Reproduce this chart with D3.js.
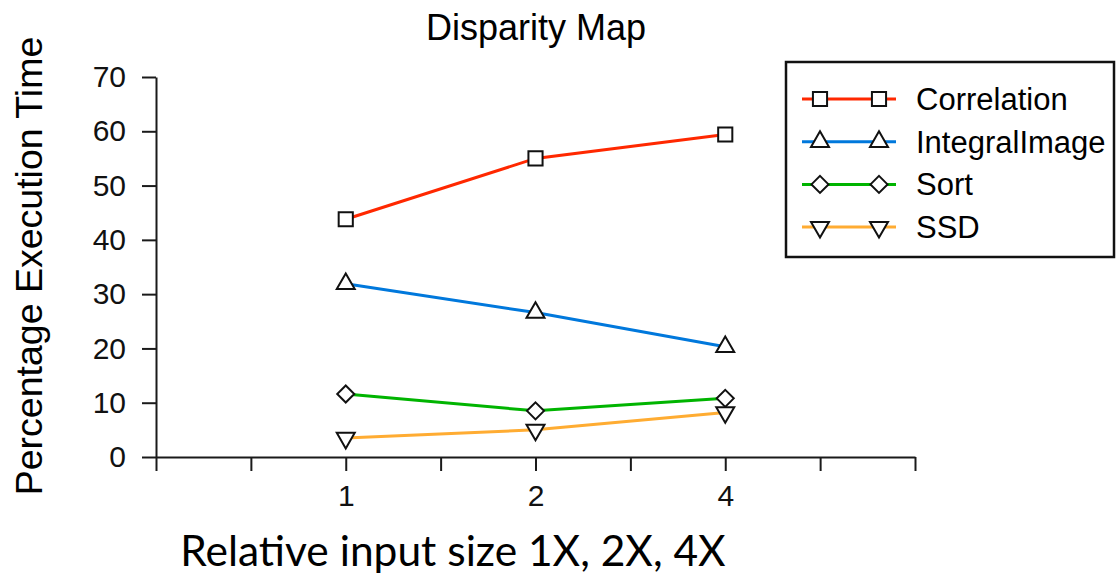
<html>

<head>
    <script src="https://d3js.org/d3.v7.min.js"></script>
    <style>
        body {
            margin: 0;
            background: white;
        }

        * {
            font-family: "Liberation Sans", Arial, sans-serif;
        }

        .axis path,
        .axis line {
            stroke: #1a1a1a;
            stroke-width: 2;
        }

        .axis text {
            font-size: 30px;
            fill: #111;
        }
    </style>
</head>

<body>
    <svg id="chart" width="1117" height="579"></svg>
</body>

<script>
    // data
    const sizes = ["1", "2", "4"];
    const sizePos = [2, 4, 6];
    const seriesNames = ["Correlation", "IntegralImage", "Sort", "SSD"];
    const correlation = [43.8, 55.0, 59.4];
    const integralImage = [31.9, 26.6, 20.3];
    const sortVals = [11.6, 8.5, 10.8];
    const ssd = [3.5, 5.0, 8.2];
    const yTicks = [0, 10, 20, 30, 40, 50, 60, 70];

    const colors = ["rgb(255,40,0)", "rgb(0,120,220)", "rgb(0,180,0)", "rgb(255,172,50)"];
    const symbols = [
        { type: d3.symbolSquare, size: 200, rot: 0 },
        { type: d3.symbolTriangle, size: 140, rot: 0 },
        { type: d3.symbolDiamond2, size: 185, rot: 0 },
        { type: d3.symbolTriangle, size: 140, rot: 180 }
    ];
    const allValues = [correlation, integralImage, sortVals, ssd];

    const svg = d3.select("#chart");
    const plotLeft = 156, plotRight = 915, plotTop = 77, plotBottom = 457;

    const xScale = d3.scaleLinear().domain([0, 8]).range([plotLeft, plotRight]);
    const yScale = d3.scaleLinear().domain([0, 70]).range([plotBottom, plotTop]);

    // axes
    svg.append("g")
        .attr("class", "axis")
        .attr("transform", `translate(${plotLeft},0)`)
        .call(d3.axisLeft(yScale).tickValues(yTicks).tickSize(14).tickPadding(16).tickSizeOuter(0));

    svg.append("g")
        .attr("class", "axis")
        .attr("transform", `translate(0,${plotBottom})`)
        .call(d3.axisBottom(xScale).ticks(8).tickSize(14).tickPadding(14).tickSizeOuter(0)
            .tickFormat(d => sizePos.indexOf(d) >= 0 ? sizes[sizePos.indexOf(d)] : ""));

    // lines
    const lineGen = d3.line()
        .x((d, i) => xScale(sizePos[i]))
        .y(d => yScale(d));

    allValues.forEach((vals, s) => {
        svg.append("path")
            .datum(vals)
            .attr("fill", "none")
            .attr("stroke", colors[s])
            .attr("stroke-width", 3)
            .attr("d", lineGen);
    });

    allValues.forEach((vals, s) => {
        svg.selectAll(".m" + s).data(vals)
            .join("path")
            .attr("class", "m" + s)
            .attr("d", d3.symbol().type(symbols[s].type).size(symbols[s].size))
            .attr("transform", (d, i) => `translate(${xScale(sizePos[i])},${yScale(d)}) rotate(${symbols[s].rot})`)
            .attr("fill", "white")
            .attr("stroke", "#111")
            .attr("stroke-width", 2);
    });

    // title and axis labels
    svg.append("text")
        .attr("x", 536).attr("y", 40)
        .attr("text-anchor", "middle")
        .attr("font-size", 36)
        .text("Disparity Map");

    svg.append("text")
        .attr("transform", "translate(42,266) rotate(-90)")
        .attr("text-anchor", "middle")
        .attr("font-size", 37.5)
        .text("Percentage Execution Time");

    svg.append("text")
        .attr("x", 453).attr("y", 566)
        .attr("text-anchor", "middle")
        .attr("font-size", 42.5)
        .style("font-family", "Lato, 'Open Sans', sans-serif")
        .text("Relative input size 1X, 2X, 4X");

    // legend
    const legend = svg.append("g");
    legend.append("rect")
        .attr("x", 786).attr("y", 62)
        .attr("width", 328).attr("height", 195)
        .attr("fill", "white")
        .attr("stroke", "#111")
        .attr("stroke-width", 2.5);

    seriesNames.forEach((name, s) => {
        const y = 99 + s * 42.7;
        legend.append("line")
            .attr("x1", 802).attr("x2", 896)
            .attr("y1", y).attr("y2", y)
            .attr("stroke", colors[s])
            .attr("stroke-width", 3);
        [820, 879].forEach(x => {
            legend.append("path")
                .attr("d", d3.symbol().type(symbols[s].type).size(symbols[s].size))
                .attr("transform", `translate(${x},${y}) rotate(${symbols[s].rot})`)
                .attr("fill", "white")
                .attr("stroke", "#111")
                .attr("stroke-width", 2);
        });
        legend.append("text")
            .attr("x", 916).attr("y", y + 11)
            .attr("font-size", 31)
            .text(name);
    });
</script>

</html>
